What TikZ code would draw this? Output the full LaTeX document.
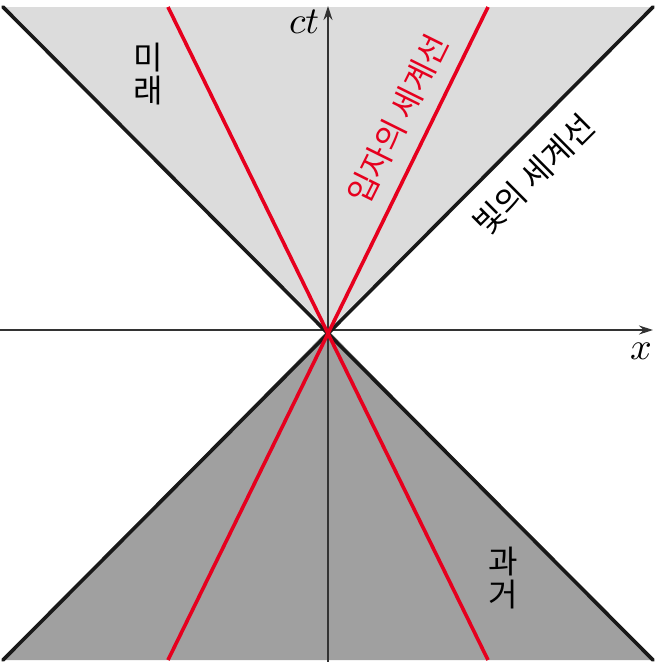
\documentclass[tikz,border=0pt]{standalone}
\usepackage{fontspec}
\newfontfamily\kr{Noto Sans CJK KR}
\usetikzlibrary{arrows.meta}
\definecolor{lightfill}{HTML}{DCDCDC}
\definecolor{darkfill}{HTML}{A0A0A0}
\definecolor{wred}{HTML}{E6001E}
\tikzset{
  cone/.style={line width=3.6pt, black!90, line cap=round},
  particle/.style={line width=3.6pt, wred},
  axis/.style={line width=1.2pt, black!80, -{Stealth[length=14pt,width=9pt]}},
  krlabel/.style={font=\kr\fontsize{32}{36}\selectfont, inner sep=0pt},
  mathlabel/.style={scale=3.8, inner sep=0pt}
}
\begin{document}
\begin{tikzpicture}[x=1pt,y=-1pt]
\useasboundingbox (0,0) rectangle (657,662);
\coordinate (O) at (328,330);
\coordinate (TL) at (3,7);
\coordinate (TR) at (653,7);
\coordinate (BL) at (3,660);
\coordinate (BR) at (653,660);
\coordinate (RTL) at (168,7);
\coordinate (RTR) at (488,7);
\coordinate (RBL) at (168,660);
\coordinate (RBR) at (488,660);
\coordinate (Ybot) at (328,662);
\coordinate (Ytop) at (328,6);
\coordinate (Xl) at (0,330);
\coordinate (Xr) at (653,330);
% fills
\fill[lightfill] (TL) -- (TR) -- (O) -- cycle;
\fill[darkfill] (BL) -- (BR) -- (O) -- cycle;
% axes
\draw[axis] (Ybot) -- (Ytop);
\draw[axis] (Xl) -- (Xr);
% light cone
\draw[cone] (TL) -- (BR);
\draw[cone] (TR) -- (BL);
% particle world lines
\draw[particle] (RTL) -- (RBR);
\draw[particle] (RTR) -- (RBL);
% labels
\node[mathlabel, anchor=east] (ct) at (320,22) {$ct$};
\node[mathlabel] (xl) at (641,351) {$x$};
\node[krlabel, align=center] (future) at (148,74) {미\\[-3pt]래};
\node[krlabel, align=center] (past) at (503,578) {과\\[-3pt]거};
\node[krlabel, text=wred, rotate=63.6] (plabel) at (398,119) {입자의 세계선};
\node[krlabel, rotate=44.8] (llabel) at (534,175) {빛의 세계선};
\end{tikzpicture}
\end{document}
